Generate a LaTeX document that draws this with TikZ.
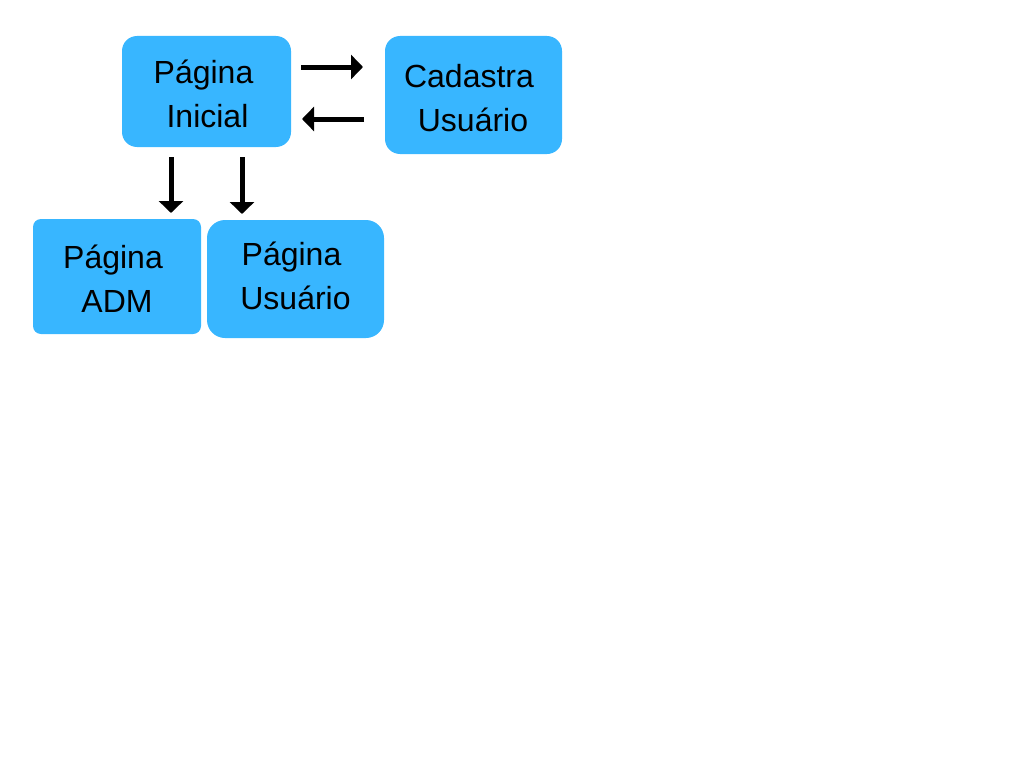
\documentclass[tikz,border=0pt]{standalone}
\usepackage{fontspec}
\setmainfont{Liberation Sans}
\usetikzlibrary{arrows.meta}
\definecolor{boxblue}{HTML}{38B6FF}
\tikzset{
  pagebox/.style={fill=boxblue, draw=none, inner sep=0pt},
  pagetext/.style={align=center, inner sep=0pt, font=\fontsize{32}{44}\selectfont, text=black},
  bigarrow/.style={line width=5pt, -{Triangle[width=24pt,length=12pt]}}
}
\begin{document}
\begin{tikzpicture}[x=1pt,y=-1pt]
\useasboundingbox (0,0) rectangle (1024,768);
\node[pagebox, rounded corners=15pt, minimum width=169pt, minimum height=111pt] (ini) at (206.5,91.5) {};
\node[pagebox, rounded corners=15pt, minimum width=177pt, minimum height=118pt] (cad) at (473.5,95) {};
\node[pagebox, rounded corners=8pt, minimum width=168pt, minimum height=115pt] (adm) at (117,276.5) {};
\node[pagebox, rounded corners=18pt, minimum width=177pt, minimum height=118pt] (usu) at (295.5,279) {};
\node[pagetext] (initxt) at ([xshift=-3pt,yshift=-2pt]ini.center) {Página\\\hspace*{8pt}Inicial};
\node[pagetext] (cadtxt) at ([xshift=-4.5pt,yshift=-3pt]cad.center) {Cadastra\\\hspace*{8pt}Usuário};
\node[pagetext] (admtxt) at ([yshift=-2pt]adm.center) {\hspace*{-8pt}Página\\ADM};
\node[pagetext] (usutxt) at ([yshift=3pt]usu.center) {\hspace*{-8pt}Página\\Usuário};
\coordinate (r1) at (301,67);
\coordinate (r2) at (363,67);
\coordinate (l1) at (364,119);
\coordinate (l2) at (302,119);
\coordinate (d1) at (171,157);
\coordinate (d2) at (171,213);
\coordinate (e1) at (242,157);
\coordinate (e2) at (242,214);
\draw[bigarrow] (r1) -- (r2);
\draw[bigarrow] (l1) -- (l2);
\draw[bigarrow] (d1) -- (d2);
\draw[bigarrow] (e1) -- (e2);
\end{tikzpicture}
\end{document}
